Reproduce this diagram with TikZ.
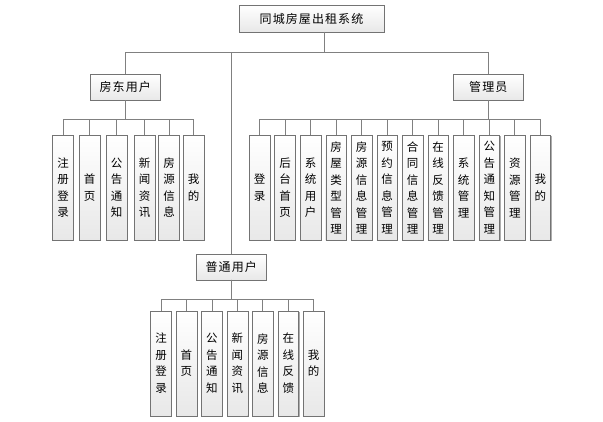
\documentclass[tikz,border=0pt]{standalone}
\usepackage{fontspec}
\setmainfont{Noto Sans CJK SC}
\newfontfamily\headfont[LetterSpace=9]{Noto Sans CJK SC}
\usetikzlibrary{shadows}

\begin{document}
\begin{tikzpicture}[x=1pt,y=-1pt,
  box/.style={draw=black!55, top color=white, bottom color=black!9, inner sep=0pt,
    drop shadow={shadow xshift=0.9pt,shadow yshift=-0.9pt,fill=black!40,opacity=0.8},
    font=\headfont\fontsize{12}{14}\selectfont},
  head/.style={box, minimum width=70.5pt, minimum height=25.5pt},
  leaf/.style={box, minimum width=20.7pt, minimum height=105pt, align=center,
    font=\rmfamily\fontsize{11.5}{16.5}\selectfont},
  conn/.style={draw=black!50, line width=0.8pt}]
\useasboundingbox (0,0) rectangle (603,421);
% Root and the three user groups
\node[box, minimum width=145pt, minimum height=26.5pt] (sys) at (311.5,18.5) {同城房屋出租系统};
\node[head] (fd) at (125.3,87.3) {房东用户};
\node[head] (gly) at (488.3,87.3) {管理员};
\node[head] (pt) at (231.3,267) {普通用户};
% Top bus
\coordinate (topbus) at (324,52.3);
\draw[conn] (sys.south -| topbus) -- (topbus);
\draw[conn] (topbus) -| (fd.north);
\draw[conn] (topbus) -| (gly.north);
\draw[conn] (topbus) -| (pt.north);
% Landlord functions
\foreach \x/\t [count=\i] in {63/注\\册\\登\\录, 89.5/首\\页, 116.7/公\\告\\通\\知,
    144.7/新\\闻\\资\\讯, 169/房\\源\\信\\息, 193.7/我\\的} {
  \node[leaf] (fd\i) at (\x,187.5) {\t};
  \draw[conn] (fd.south) -- ++(0,19) -| (fd\i.north);
}
% Administrator functions
\foreach \t [count=\i] in {登\\录, 后\\台\\首\\页, 系\\统\\用\\户, 房\\屋\\类\\型\\管\\理,
    房\\源\\信\\息\\管\\理, 预\\约\\信\\息\\管\\理, 合\\同\\信\\息\\管\\理,
    在\\线\\反\\馈\\管\\理, 系\\统\\管\\理, 公\\告\\通\\知\\管\\理, 资\\源\\管\\理, 我\\的} {
  \node[leaf] (gly\i) at ({259.5+25.53*(\i-1)},187.8) {\t};
  \draw[conn] (gly.south) -- ++(0,19) -| (gly\i.north);
}
% Ordinary user functions
\foreach \t [count=\i] in {注\\册\\登\\录, 首\\页, 公\\告\\通\\知, 新\\闻\\资\\讯,
    房\\源\\信\\息, 在\\线\\反\\馈, 我\\的} {
  \node[leaf] (pt\i) at ({161+25.45*(\i-1)},363.3) {\t};
  \draw[conn] (pt.south) -- ++(0,19) -| (pt\i.north);
}
\end{tikzpicture}
\end{document}
